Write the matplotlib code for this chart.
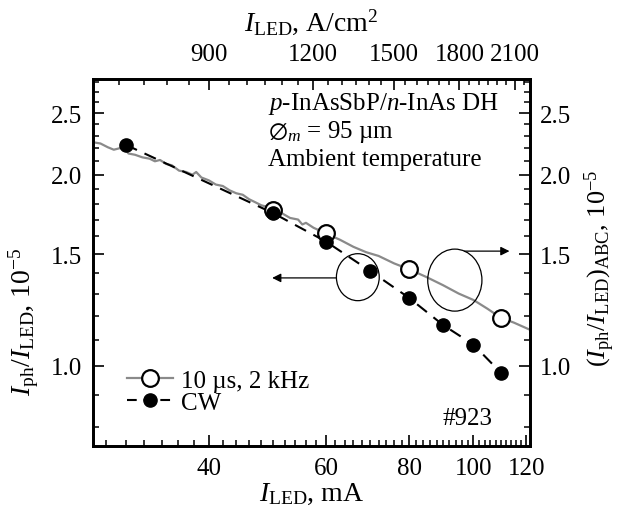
import numpy as np
import matplotlib
matplotlib.use("Agg")
import matplotlib.pyplot as plt
from matplotlib.lines import Line2D
from matplotlib.patches import Ellipse
from matplotlib.ticker import NullFormatter

plt.rcParams['font.family'] = ['Liberation Serif', 'DejaVu Serif']
plt.rcParams['mathtext.fontset'] = 'custom'
plt.rcParams['mathtext.rm'] = 'Liberation Serif'
plt.rcParams['mathtext.it'] = 'Liberation Serif:italic'
plt.rcParams['mathtext.bf'] = 'Liberation Serif:bold'
plt.rcParams['lines.scale_dashes'] = False
plt.rcParams['font.size'] = 18

# CW measurement (filled circles)
i_cw = [30, 50, 60, 70, 80, 90, 100, 110]
r_cw = [2.23, 1.74, 1.57, 1.41, 1.28, 1.16, 1.08, 0.975]

# pulsed 10 us, 2 kHz (open circles)
i_pulse = [50, 60, 80, 110]
r_pulse = [1.76, 1.62, 1.42, 1.19]

# (Iph/ILED)_ABC trace
i_abc = [26.8, 27.5, 28.2, 28.8, 29.3, 29.8, 30.3, 31.0, 31.8, 32.6, 33.2, 33.8,
         34.5, 35.2, 36.1, 37.0, 37.8, 38.3, 39.0, 40.0, 41.0, 42.0, 43.0, 44.0,
         45.0, 46.0, 47.0, 48.0, 49.0, 50.0, 51.5, 53.0, 54.5, 55.3, 56.0, 57.5,
         59.0, 60.5, 63.0, 66.0, 69.0, 72.0, 76.0, 80.0, 85.0, 90.0, 95.0,
         100.0, 105.0, 110.0, 115.0, 121.6]
r_abc = [2.25, 2.24, 2.21, 2.19, 2.20, 2.21, 2.16, 2.15, 2.13, 2.12, 2.10, 2.11,
         2.08, 2.07, 2.03, 2.02, 2.00, 2.02, 1.98, 1.96, 1.93, 1.92, 1.89, 1.87,
         1.86, 1.83, 1.81, 1.79, 1.78, 1.76, 1.74, 1.71, 1.70, 1.67, 1.68, 1.65,
         1.63, 1.61, 1.58, 1.54, 1.51, 1.49, 1.45, 1.42, 1.38, 1.34, 1.30,
         1.27, 1.23, 1.19, 1.17, 1.14]

# ticks
x_major = [40, 60, 80, 100, 120]
x_minor = list(range(28, 122, 2))
j_major = [900, 1200, 1500, 1800, 2100]
j_minor = list(range(700, 2200, 50))
y_major = [1.0, 1.5, 2.0, 2.5]
y_minor = [round(0.8 + 0.1 * k, 1) for k in range(21)]

fig = plt.figure(figsize=(6.23, 5.10), dpi=100)
ax = fig.add_axes([93 / 623, 63 / 510, 437 / 623, 367 / 510])
ax.set_xscale('log')
ax.set_yscale('log')
ax.set_xlim(26.8, 121.6)
ax.set_ylim(0.748, 2.83)

ax.plot(i_abc, r_abc, color='#8a8a8a', lw=1.6, zorder=2)
ax.plot(i_cw, r_cw, color='k', ls=(0, (9, 6)), lw=1.5, zorder=2)
ax.plot(i_pulse, r_pulse, 'o', mfc='white', mec='k', mew=1.6, ms=12, zorder=3)
ax.plot(i_cw, r_cw, 'o', color='k', ms=9.5, zorder=4)

# top axis: current density
axt = ax.twiny()
axt.set_xscale('log')
axt.set_xlim(652, 2189)
# right axis
axr = ax.twinx()
axr.set_yscale('log')
axr.set_ylim(0.748, 2.83)

ax.set_xticks(x_major)
ax.set_xticklabels([str(v) for v in x_major])
ax.set_xticks(x_minor, minor=True)
ax.xaxis.set_minor_formatter(NullFormatter())
axt.set_xticks(j_major)
axt.set_xticklabels([str(v) for v in j_major])
axt.set_xticks(j_minor, minor=True)
axt.xaxis.set_minor_formatter(NullFormatter())
for a in (ax, axr):
    a.set_yticks(y_major)
    a.set_yticklabels(['%.1f' % v for v in y_major])
    a.set_yticks(y_minor, minor=True)
    a.yaxis.set_minor_formatter(NullFormatter())

for a in (ax, axt, axr):
    a.tick_params(which='major', direction='in', length=8, width=1.2, labelsize=18)
    a.tick_params(which='minor', direction='in', length=4.5, width=1.1)
    for s in a.spines.values():
        s.set_linewidth(1.8)
ax.tick_params(axis='y', pad=8)
ax.tick_params(axis='x', pad=8)
axr.tick_params(axis='y', pad=7)
axt.tick_params(axis='x', pad=10)

ax.set_xlabel(r'$I_{\rm LED}$, mA', fontsize=20)
ax.xaxis.set_label_coords(0.5, -0.095)
axt.set_xlabel(r'$I_{\rm LED}$, A/cm$^2$', fontsize=20)
axt.xaxis.set_label_coords(0.5, 1.135)
ax.set_ylabel(r'$I_{\rm ph}/I_{\rm LED}$, 10$^{-5}$', fontsize=20)
ax.yaxis.set_label_coords(-0.12, 0.34)
axr.set_ylabel(r'$(I_{\rm ph}/I_{\rm LED})_{\rm ABC}$, 10$^{-5}$', fontsize=19)
axr.yaxis.set_label_coords(1.119, 0.488)

# annotations
ax.text(0.40, 0.918, r'$p$-InAsSbP/$n$-InAs DH', transform=ax.transAxes, va='baseline')
ax.text(0.40, 0.842, r'$\varnothing_m$ = 95 µm', transform=ax.transAxes, va='baseline')
ax.text(0.40, 0.766, 'Ambient temperature', transform=ax.transAxes, va='baseline')
ax.text(0.915, 0.060, '#923', transform=ax.transAxes, ha='right', va='baseline')

ax.add_patch(Ellipse((0.606, 0.460), 0.098, 0.128, transform=ax.transAxes,
                     fill=False, ec='k', lw=0.9, zorder=5))
ax.add_patch(Ellipse((0.828, 0.452), 0.124, 0.169, transform=ax.transAxes,
                     fill=False, ec='k', lw=0.9, zorder=5))
ax.annotate('', xy=(0.41, 0.458), xytext=(0.557, 0.458), xycoords='axes fraction',
            arrowprops=dict(arrowstyle='-|>', color='k', lw=0.9, mutation_scale=13,
                            shrinkA=0, shrinkB=0))
ax.annotate('', xy=(0.953, 0.531), xytext=(0.85, 0.531), xycoords='axes fraction',
            arrowprops=dict(arrowstyle='-|>', color='k', lw=0.9, mutation_scale=13,
                            shrinkA=0, shrinkB=0))

handles = [Line2D([], [], color='#8a8a8a', lw=1.6, marker='o', mfc='white', mec='k',
                  mew=1.6, ms=12),
           Line2D([], [], color='k', lw=1.5, ls=(0, (7, 5)), marker='o', ms=9.5)]
ax.legend(handles, ['10 µs, 2 kHz', 'CW'], loc='center left', bbox_to_anchor=(0.078, 0.148),
          frameon=False, borderpad=0, borderaxespad=0, handlelength=1.84,
          handletextpad=0.3, labelspacing=0.0, fontsize=18)

fig.savefig('out.png', dpi=100)
